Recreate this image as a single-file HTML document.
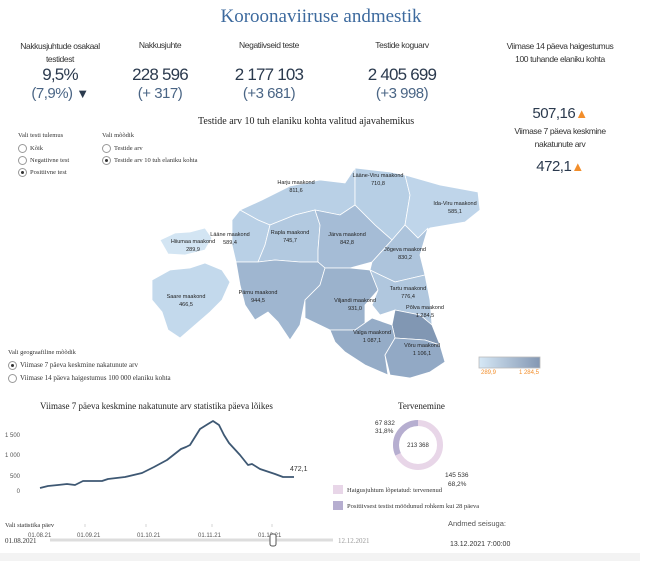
<!DOCTYPE html>
<html><head><meta charset="utf-8"><style>
body{margin:0;width:650px;height:561px;background:#fff;position:relative;overflow:hidden;font-family:"Liberation Sans",sans-serif;color:#333}
.a{position:absolute;white-space:nowrap}
.c{text-align:center}
.h{font-size:8.5px;color:#333;letter-spacing:-0.4px}
.v{font-size:17px;color:#2b3a4e;letter-spacing:-0.8px}
.d{font-size:15px;color:#4a6585;letter-spacing:-0.5px}
.s{font-family:"Liberation Serif",serif}
.r{width:7px;height:7px;border:1px solid #999;border-radius:50%;display:inline-block;vertical-align:middle;margin-right:3px;position:relative}
.r.on::after{content:"";position:absolute;left:2px;top:2px;width:3px;height:3px;border-radius:50%;background:#333}
.sm{font-size:6.5px;color:#333;font-family:"Liberation Serif",serif}
</style></head><body>
<div class="a s" style="left:-4px;width:650px;top:6px;text-align:center;font-size:19px;color:#3d6a9e">Koroonaviiruse andmestik</div>

<div class="a c h" style="left:5px;width:110px;top:40px;line-height:13px">Nakkusjuhtude osakaal<br>testidest</div>
<div class="a c v" style="left:5px;width:110px;top:65px">9,5%</div>
<div class="a c d" style="left:5px;width:110px;top:85px">(7,9%) <span style="color:#2b3a4e;font-size:13px">▼</span></div>

<div class="a c h" style="left:105px;width:110px;top:40px">Nakkusjuhte</div>
<div class="a c v" style="left:105px;width:110px;top:65px">228 596</div>
<div class="a c d" style="left:105px;width:110px;top:85px">(+ 317)</div>

<div class="a c h" style="left:214px;width:110px;top:40px">Negatiivseid teste</div>
<div class="a c v" style="left:214px;width:110px;top:65px">2 177 103</div>
<div class="a c d" style="left:214px;width:110px;top:85px">(+3 681)</div>

<div class="a c h" style="left:347px;width:110px;top:40px">Testide koguarv</div>
<div class="a c v" style="left:347px;width:110px;top:65px">2 405 699</div>
<div class="a c d" style="left:347px;width:110px;top:85px">(+3 998)</div>

<div class="a c h" style="left:490px;width:140px;top:40px;line-height:13px">Viimase 14 päeva haigestumus<br>100 tuhande elaniku kohta</div>
<div class="a c" style="left:490px;width:140px;top:105px;font-size:15px;color:#2b3a4e;letter-spacing:-0.5px">507,16<span style="color:#f28e2b;font-size:13px">▲</span></div>

<div class="a c h" style="left:490px;width:140px;top:125px;line-height:13px">Viimase 7 päeva keskmine<br>nakatunute arv</div>
<div class="a c" style="left:490px;width:140px;top:158px;font-size:15px;color:#2b3a4e;letter-spacing:-0.5px">472,1<span style="color:#f28e2b;font-size:13px">▲</span></div>

<div class="a s" style="left:198px;top:116px;font-size:10px;color:#222">Testide arv 10 tuh elaniku kohta valitud ajavahemikus</div>

<div class="a sm" style="left:18px;top:132px">Vali testi tulemus</div>
<div class="a sm" style="left:18px;top:144px"><span class="r"></span>Kõik</div>
<div class="a sm" style="left:18px;top:156px"><span class="r"></span>Negatiivne test</div>
<div class="a sm" style="left:18px;top:168px"><span class="r on"></span>Positiivne test</div>
<div class="a sm" style="left:102px;top:132px">Vali mõõdik</div>
<div class="a sm" style="left:102px;top:144px"><span class="r"></span>Testide arv</div>
<div class="a sm" style="left:102px;top:156px"><span class="r on"></span>Testide arv 10 tuh elaniku kohta</div>

<svg class="a" style="left:0;top:0" width="650" height="561">
<g stroke="#fff" stroke-width="0.8">
<path d="M160,240 L175,233 L190,232 L205,228 L212,238 L205,250 L185,255 L168,254 Z" fill="#d3e5f3"/>
<path d="M152,280 L170,270 L190,268 L205,263 L222,270 L230,282 L222,300 L210,312 L195,325 L180,338 L168,330 L162,312 L152,300 Z" fill="#c3d9ec"/>
<path d="M240,210 L262,200 L290,186 L320,180 L345,183 L355,168 L355,205 L340,215 L315,210 L295,215 L270,225 L258,220 Z" fill="#b9d0e6"/>
<path d="M232,220 L240,210 L258,220 L270,225 L265,245 L258,262 L236,262 L232,245 Z" fill="#b9d0e6"/>
<path d="M355,168 L390,172 L405,175 L410,195 L405,225 L392,240 L375,225 L355,205 Z" fill="#b7cfe5"/>
<path d="M405,175 L440,185 L478,192 L480,210 L465,222 L430,228 L418,238 L405,225 L410,195 Z" fill="#bfd5ea"/>
<path d="M270,225 L295,215 L315,210 L320,225 L318,250 L318,262 L300,262 L275,260 L258,262 L265,245 Z" fill="#b2c9e0"/>
<path d="M315,210 L340,215 L355,205 L375,225 L392,240 L372,262 L350,268 L325,268 L318,262 L318,250 L320,225 Z" fill="#a5bcd6"/>
<path d="M392,240 L405,225 L418,238 L428,228 L420,255 L425,275 L395,282 L370,270 L372,262 Z" fill="#adc4dc"/>
<path d="M236,262 L258,262 L275,260 L300,262 L318,262 L325,268 L320,285 L305,300 L300,325 L290,340 L278,322 L268,312 L255,320 L245,305 L240,285 Z" fill="#9fb6d0"/>
<path d="M325,268 L350,268 L370,270 L378,290 L365,305 L365,325 L355,330 L330,330 L305,318 L305,300 L320,285 Z" fill="#9bb2cc"/>
<path d="M370,270 L395,282 L425,275 L430,300 L432,325 L420,315 L395,310 L380,315 L372,305 L378,290 Z" fill="#b0c7de"/>
<path d="M395,310 L420,315 L432,325 L440,345 L425,340 L395,338 L392,325 Z" fill="#8197b3"/>
<path d="M330,330 L355,330 L372,318 L392,325 L395,338 L385,355 L388,375 L365,365 L345,352 L335,342 Z" fill="#95acc7"/>
<path d="M395,338 L425,340 L440,345 L445,362 L430,372 L410,378 L390,375 L385,355 Z" fill="#92a9c5"/>
</g>
<g font-family="Liberation Sans,sans-serif" font-size="5.5" fill="#222" text-anchor="middle">
<text x="296" y="184">Harju maakond</text><text x="296" y="192">811,6</text>
<text x="378" y="177">Lääne-Viru maakond</text><text x="378" y="185">710,8</text>
<text x="455" y="205">Ida-Viru maakond</text><text x="455" y="213">585,1</text>
<text x="230" y="236">Lääne maakond</text><text x="230" y="244">589,4</text>
<text x="193" y="243">Hiiumaa maakond</text><text x="193" y="251">289,9</text>
<text x="290" y="234">Rapla maakond</text><text x="290" y="242">745,7</text>
<text x="347" y="236">Järva maakond</text><text x="347" y="244">842,8</text>
<text x="405" y="251">Jõgeva maakond</text><text x="405" y="259">830,2</text>
<text x="186" y="298">Saare maakond</text><text x="186" y="306">466,5</text>
<text x="258" y="294">Pärnu maakond</text><text x="258" y="302">944,5</text>
<text x="355" y="302">Viljandi maakond</text><text x="355" y="310">931,0</text>
<text x="408" y="290">Tartu maakond</text><text x="408" y="298">776,4</text>
<text x="425" y="309">Põlva maakond</text><text x="425" y="317">1 284,5</text>
<text x="372" y="334">Valga maakond</text><text x="372" y="342">1 087,1</text>
<text x="422" y="347">Võru maakond</text><text x="422" y="355">1 106,1</text>
</g>
<defs><linearGradient id="g"><stop offset="0" stop-color="#d6e8f6"/><stop offset="1" stop-color="#8397b3"/></linearGradient></defs>
<rect x="479" y="357" width="61" height="11" fill="url(#g)" stroke="#bbb" stroke-width="0.8"/>
<text x="481" y="374" font-size="6" fill="#f28e2b" font-family="Liberation Sans">289,9</text>
<text x="539" y="374" font-size="6" fill="#f28e2b" text-anchor="end" font-family="Liberation Sans">1 284,5</text>

<g font-family="Liberation Sans,sans-serif" font-size="6" fill="#555">
<text x="20" y="437" text-anchor="end">1 500</text>
<text x="20" y="457" text-anchor="end">1 000</text>
<text x="20" y="478" text-anchor="end">500</text>
<text x="20" y="493" text-anchor="end">0</text>
<text x="28" y="537">01.08.21</text><text x="77" y="537">01.09.21</text><text x="137" y="537">01.10.21</text><text x="198" y="537">01.11.21</text><text x="258" y="537">01.12.21</text>
</g>
<g stroke="#bbb" stroke-width="0.6"><line x1="28" y1="524" x2="28" y2="527"/><line x1="85" y1="524" x2="85" y2="527"/><line x1="146" y1="524" x2="146" y2="527"/><line x1="212" y1="524" x2="212" y2="527"/><line x1="272" y1="524" x2="272" y2="527"/></g>
<polyline fill="none" stroke="#3e5873" stroke-width="1.8" stroke-linejoin="round" points="40,488 48,486 58,485 67,484 75,485 83,481 102,481 108,479 125,477 142,473 154,467 167,460 181,449 186,447 190,445 200,429 208,424 213,421 219,425 224,435 229,443 240,455 248,465 252,464 260,469 275,474 283,477 294,477"/>
<text x="290" y="471" font-size="7" fill="#333" font-family="Liberation Sans">472,1</text>

<circle cx="418" cy="445" r="22" fill="none" stroke="#e8d6e8" stroke-width="6"/>
<circle cx="418" cy="445" r="22" fill="none" stroke="#b6aed0" stroke-width="6" stroke-dasharray="44 200" transform="rotate(-90 418 445) scale(1,-1) translate(0,-890)" />
<text x="418" y="447" font-size="6" text-anchor="middle" fill="#333" font-family="Liberation Sans">213 368</text>
<g font-size="6.5" fill="#333" font-family="Liberation Sans"><text x="375" y="425">67 832</text><text x="375" y="433">31,8%</text><text x="445" y="477">145 536</text><text x="448" y="486">68,2%</text></g>
<rect x="333" y="485" width="10" height="9" fill="#e8d6e8"/>
<rect x="333" y="501" width="10" height="9" fill="#b6aed0"/>
<text x="347" y="492" font-size="6.5" fill="#333" font-family="Liberation Serif">Haigusjuhtum lõpetatud: tervenenud</text>
<text x="347" y="508" font-size="6.5" fill="#333" font-family="Liberation Serif">Positiivsest testist möödunud rohkem kui 28 päeva</text>

<line x1="50" y1="540" x2="333" y2="540" stroke="#ddd" stroke-width="3"/>
<rect x="270" y="534" width="6" height="12" rx="2" fill="#fff" stroke="#555"/>
<rect x="0" y="553" width="640" height="8" fill="#f3f3f3"/>
</svg>

<div class="a sm" style="left:8px;top:349px">Vali geograafiline mõõdik</div>
<div class="a sm" style="left:8px;top:361px;font-size:7px"><span class="r on"></span>Viimase 7 päeva keskmine nakatunute arv</div>
<div class="a sm" style="left:8px;top:374px;font-size:7px"><span class="r"></span>Viimase 14 päeva haigestumus 100 000 elaniku kohta</div>

<div class="a s" style="left:40px;top:401px;font-size:9px;color:#222">Viimase 7 päeva keskmine nakatunute arv statistika päeva lõikes</div>
<div class="a s" style="left:398px;top:401px;font-size:9px;color:#222">Tervenemine</div>
<div class="a sm" style="left:5px;top:522px">Vali statistika päev</div>
<div class="a sm" style="left:5px;top:537px;font-size:7px">01.08.2021</div>
<div class="a sm" style="left:338px;top:537px;font-size:7px;color:#999">12.12.2021</div>
<div class="a" style="left:448px;top:519px;font-size:7.5px;color:#555">Andmed seisuga:</div>
<div class="a" style="left:450px;top:541px;font-size:7px;color:#333">13.12.2021 7:00:00</div>
</body></html>
